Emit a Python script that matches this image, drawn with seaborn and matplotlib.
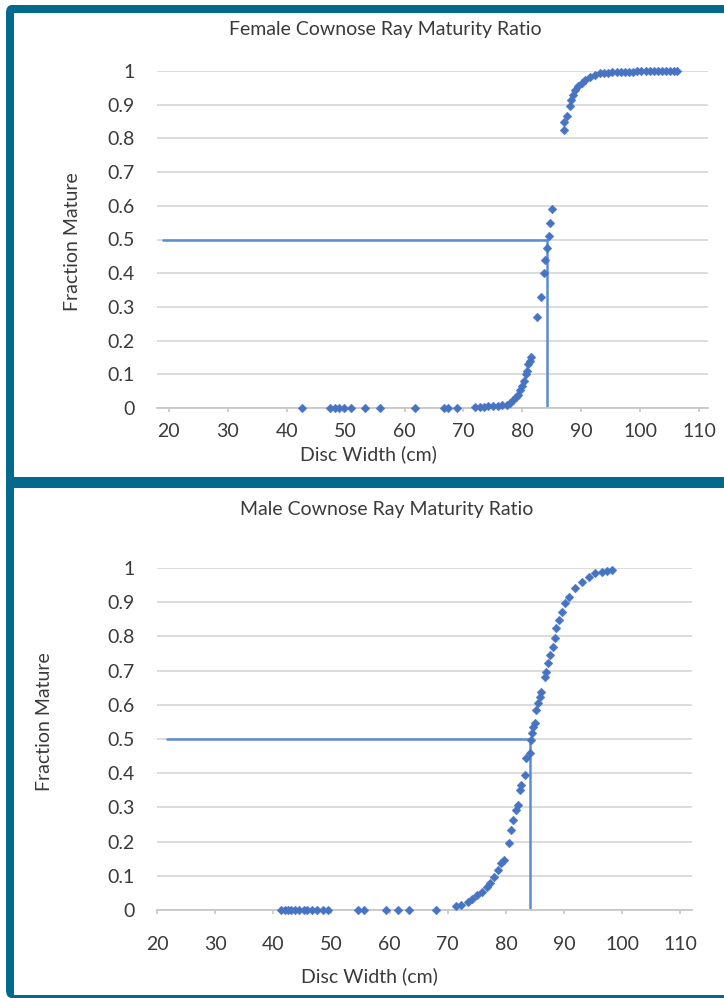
import matplotlib
matplotlib.use("Agg")
import matplotlib.pyplot as plt
from matplotlib.patches import Rectangle, FancyBboxPatch
import seaborn as sns

W, H = 724, 998
TEAL = "#036a8d"
BLUE = "#4673c2"
LINE = "#5b8cd1"
GRID = "#d9d9d9"
TXT = "#3a3a3a"
FS = 14

# female: disc width (cm) and fraction mature
female_width = [42.6, 47.4, 48.2, 48.9, 49.7, 50.9, 53.3, 55.9, 61.8, 66.7, 67.4, 68.9,
                72.0, 72.8, 73.5, 74.2, 75.0, 75.8, 76.5,
                77.4, 77.9, 78.4, 78.9, 79.3, 79.6, 80.0, 80.3, 80.6, 80.8, 81.0, 81.3, 81.5,
                82.5, 83.2, 83.7, 83.9, 84.2, 84.5, 84.7, 85.0,
                87.0, 87.1, 87.6, 88.0, 88.2, 88.6, 89.0, 89.5, 90.1, 90.7, 91.5, 92.4, 93.2,
                93.8, 94.5, 95.2, 96.0, 96.7, 97.4, 98.1, 98.8, 99.5, 100.2, 100.9, 101.6,
                102.3, 103.0, 103.7, 104.4, 105.1, 105.8, 106.3]
female_frac = [0, 0, 0, 0, 0, 0, 0, 0, 0, 0, 0, 0,
               0.002, 0.003, 0.004, 0.005, 0.006, 0.007, 0.008,
               0.01, 0.015, 0.024, 0.033, 0.04, 0.053, 0.065, 0.08, 0.10, 0.11, 0.13, 0.14, 0.15,
               0.27, 0.33, 0.40, 0.44, 0.475, 0.51, 0.55, 0.59,
               0.825, 0.85, 0.867, 0.896, 0.914, 0.929, 0.944, 0.955, 0.965, 0.973, 0.981, 0.988, 0.993,
               0.994, 0.995, 0.996, 0.997, 0.997, 0.998, 0.998, 0.998, 0.999, 0.999, 0.999, 0.999,
               1.0, 1.0, 1.0, 1.0, 1.0, 1.0, 1.0]
female_l50 = 84.2
female_hline_start = 19.0

# male
male_width = [41.3, 42.0, 42.6, 43.1, 43.8, 44.5, 45.2, 45.8, 46.7, 47.5, 48.5, 49.4,
              54.6, 55.6, 59.3, 61.5, 63.4, 68.0,
              71.5, 72.3, 73.4, 74.2, 75.0, 75.9, 76.7, 77.2, 77.9, 78.6, 79.1, 79.6,
              80.5, 80.8, 81.3, 81.8, 82.1, 82.5, 82.6, 83.3, 83.5, 84.2, 84.3, 84.5,
              84.7, 85.0, 85.2, 85.5, 85.9, 86.0, 86.7, 86.9, 87.2, 87.5, 88.1, 88.4,
              88.6, 89.2, 89.7, 90.2, 90.9, 91.9, 93.1, 94.3, 95.3, 96.5, 97.3, 98.2]
male_frac = [0, 0, 0, 0, 0, 0, 0, 0, 0, 0, 0, 0,
             0, 0, 0, 0, 0, 0,
             0.012, 0.015, 0.023, 0.032, 0.044, 0.053, 0.067, 0.079, 0.096, 0.117, 0.137, 0.146,
             0.196, 0.234, 0.263, 0.292, 0.307, 0.351, 0.365, 0.395, 0.444, 0.459, 0.497, 0.518,
             0.535, 0.547, 0.585, 0.605, 0.623, 0.637, 0.681, 0.696, 0.722, 0.746, 0.769, 0.795,
             0.825, 0.848, 0.871, 0.898, 0.915, 0.942, 0.959, 0.974, 0.985, 0.988, 0.991, 0.994]
male_l50 = 84.1
male_hline_start = 21.7

x_ticks = [20, 30, 40, 50, 60, 70, 80, 90, 100, 110]
y_ticks = [0, 0.1, 0.2, 0.3, 0.4, 0.5, 0.6, 0.7, 0.8, 0.9, 1.0]
y_labels = ["0", "0.1", "0.2", "0.3", "0.4", "0.5", "0.6", "0.7", "0.8", "0.9", "1"]

sns.set_theme(style="white")
plt.rcParams["font.family"] = ["Lato", "DejaVu Sans"]


def px_rect(left, top, right, bottom):
    return [left / W, 1 - bottom / H, (right - left) / W, (bottom - top) / H]


def draw_panel(ax, width, frac, l50, hline_start, xlim, xpad, label_xy):
    ax.plot([hline_start, l50], [0.5, 0.5], color=LINE, lw=1.8, zorder=2)
    ax.plot([l50, l50], [0, 0.5], color=LINE, lw=1.8, zorder=2)
    sns.scatterplot(x=width, y=frac, ax=ax, marker="D", s=20, color=BLUE,
                    edgecolor=BLUE, linewidth=0.3, clip_on=False, zorder=3)
    ax.set_xlim(*xlim)
    ax.set_ylim(0, 1)
    ax.set_xticks(x_ticks)
    ax.set_yticks(y_ticks)
    ax.set_yticklabels(y_labels)
    ax.grid(axis="y", color=GRID, lw=1.3)
    ax.grid(axis="x", visible=False)
    for side in ["left", "right", "top"]:
        ax.spines[side].set_visible(False)
    ax.spines["bottom"].set_color("#c8c8c8")
    ax.spines["bottom"].set_linewidth(1.3)
    ax.tick_params(axis="y", length=0, pad=16, labelsize=FS, labelcolor=TXT)
    ax.tick_params(axis="x", length=3, color="#c8c8c8", pad=xpad, labelsize=FS,
                   labelcolor=TXT, bottom=True)
    ax.set_xlabel("Disc Width (cm)", fontsize=FS, color=TXT, fontweight="normal")
    ax.xaxis.set_label_coords(*label_xy)
    ax.set_ylabel("")
    ax.set_facecolor("none")


fig = plt.figure(figsize=(W / 100, H / 100), dpi=100)
fig.patches.append(FancyBboxPatch((6 / W, 0), 1, 1 - 5 / H,
                                  boxstyle="round,pad=0,rounding_size=0.008",
                                  transform=fig.transFigure, facecolor=TEAL,
                                  edgecolor="none", zorder=-3))
fig.patches.append(Rectangle((14 / W, 1 - 477 / H), 1, (477 - 13) / H,
                             transform=fig.transFigure, facecolor="white",
                             edgecolor="none", zorder=-2))
fig.patches.append(Rectangle((14 / W, 1 - 995 / H), 1, (995 - 488) / H,
                             transform=fig.transFigure, facecolor="white",
                             edgecolor="none", zorder=-2))

ax1 = fig.add_axes(px_rect(157, 71, 708, 408))
draw_panel(ax1, female_width, female_frac, female_l50, female_hline_start,
           (18.0, 111.5), 8, (0.383, -0.112))
ax2 = fig.add_axes(px_rect(157, 568, 692, 910))
draw_panel(ax2, male_width, male_frac, male_l50, male_hline_start,
           (21.7, 112.0), 16, (0.398, -0.168))

fig.text(385 / W, 1 - 30 / H, "Female Cownose Ray Maturity Ratio", ha="center",
         va="center", fontsize=FS, color=TXT)
fig.text(387 / W, 1 - 510 / H, "Male Cownose Ray Maturity Ratio", ha="center",
         va="center", fontsize=FS, color=TXT)
fig.text(72 / W, 1 - 242 / H, "Fraction Mature", rotation=90, ha="center",
         va="center", fontsize=FS, color=TXT)
fig.text(45 / W, 1 - 722 / H, "Fraction Mature", rotation=90, ha="center",
         va="center", fontsize=FS, color=TXT)

fig.savefig("out.png", dpi=100)
